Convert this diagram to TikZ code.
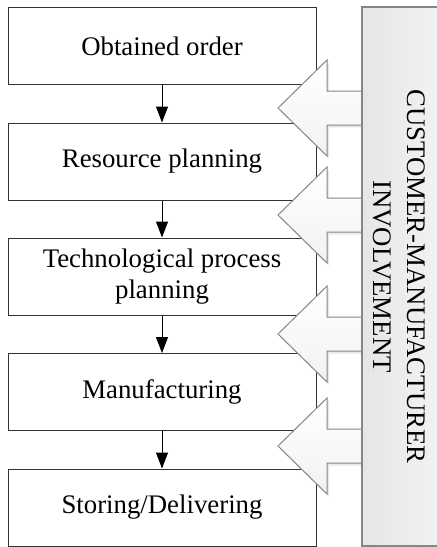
\documentclass[tikz,border=0pt]{standalone}
\usepackage{fontspec}
\setmainfont{Liberation Serif}
\usetikzlibrary{arrows.meta}

\begin{document}
\begin{tikzpicture}[x=0.5pt, y=-0.5pt, line width=0.5pt,
		stage/.style={draw=black!80, fill=white, minimum width=154pt, minimum height=38.5pt, align=center, font=\fontsize{13.4}{15.8}\selectfont},
		flow/.style={-{Triangle[width=6pt,length=8pt]}, black},
		feedback/.style={draw=gray!95, top color=white, bottom color=gray!10},
		feedshadow/.style={fill=gray!18, draw=none}]
			\useasboundingbox (0,0) rectangle (437,547);

			\draw (162, 46) 	node[stage] 	(order) 	{Obtained order};
			\draw (162, 161.5) 	node[stage] 	(resource) 	{Resource planning};
			\draw (162, 276.5) 	node[stage] 	(techproc) 	{Technological process\\planning};
			\draw (162, 392) 	node[stage] 	(manuf) 	{Manufacturing};
			\draw (162, 507.5) 	node[stage] 	(storing) 	{Storing/Delivering};

			\draw[flow] (order) -- (resource);
			\draw[flow] (resource) -- (techproc);
			\draw[flow] (techproc) -- (manuf);
			\draw[flow] (manuf) -- (storing);

			% involvement arrows
			\foreach \ty in {108, 215, 334, 446} {
				\fill[feedshadow, shift={(2,2.5)}] (278,\ty) -- (327,\ty-48) -- (327,\ty-17) -- (362,\ty-17)
					-- (362,\ty+17) -- (327,\ty+17) -- (327,\ty+48) -- cycle;
				\shade[feedback] (278,\ty) -- (327,\ty-48) -- (327,\ty-17) -- (362,\ty-17)
					-- (362,\ty+17) -- (327,\ty+17) -- (327,\ty+48) -- cycle;
			}

			\shade[left color=gray!20, right color=gray!10, draw=gray!95, line width=0.9pt] (362,7) rectangle (440,546);
			\draw (399, 276.5) 	node[rotate=-90, align=center, font=\fontsize{13.4}{17}\selectfont] 	(involve) 	{CUSTOMER-MANUFACTURER\\INVOLVEMENT};
		\end{tikzpicture}
\end{document}
